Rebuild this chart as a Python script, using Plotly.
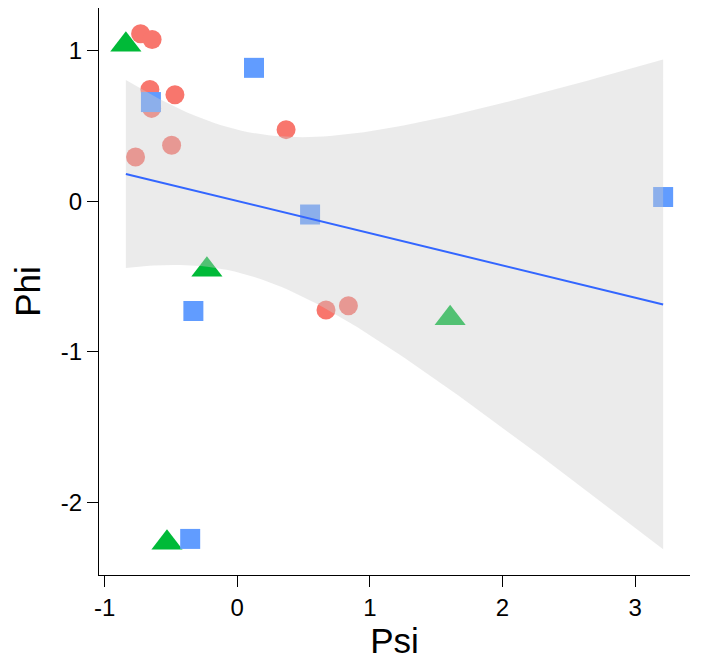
import numpy as np
import plotly.graph_objects as go

# ---- data ----
red_x = [-0.729, -0.642, -0.659, -0.470, -0.646, -0.495, -0.767, 0.368, 0.669, 0.838]
red_y = [1.111, 1.073, 0.742, 0.707, 0.616, 0.371, 0.293, 0.475, -0.722, -0.693]
green_x = [-0.840, -0.229, -0.530, 1.605]
green_y = [1.039, -0.455, -2.266, -0.776]
blue_x = [0.126, -0.651, 0.549, -0.331, -0.355, 3.211]
blue_y = [0.885, 0.658, -0.088, -0.728, -2.240, 0.028]

x_tickvals = [-1, 0, 1, 2, 3]
x_ticktext = ["-1", "0", "1", "2", "3"]
y_tickvals = [-2, -1, 0, 1]
y_ticktext = ["-2", "-1", "0", "1"]

# ---- linear fit with 95% confidence band (like stat_smooth(method="lm")) ----
ax = np.array(red_x + green_x + blue_x)
ay = np.array(red_y + green_y + blue_y)
n = len(ax)
slope, intercept = np.polyfit(ax, ay, 1)
xs = np.linspace(ax.min(), ax.max(), 80)
yhat = intercept + slope * xs
resid = ay - (intercept + slope * ax)
s = np.sqrt(np.sum(resid ** 2) / (n - 2))
sxx = np.sum((ax - ax.mean()) ** 2)
se = s * np.sqrt(1.0 / n + (xs - ax.mean()) ** 2 / sxx)
t975 = 2.100922  # t quantile, df = n - 2 = 18
upper = yhat + t975 * se
lower = yhat - t975 * se

# axis ranges with ggplot-style 5% expansion
xmin, xmax = ax.min(), ax.max()
ymin = min(ay.min(), lower.min())
ymax = max(ay.max(), upper.max())
xr = [xmin - 0.05 * (xmax - xmin), xmax + 0.05 * (xmax - xmin)]
yr = [ymin - 0.05 * (ymax - ymin), ymax + 0.05 * (ymax - ymin)]

fig = go.Figure()
fig.add_trace(go.Scatter(x=red_x, y=red_y, mode="markers",
                         marker=dict(symbol="circle", size=19, color="#F8766D"),
                         showlegend=False))
fig.add_trace(go.Scatter(x=green_x, y=green_y, mode="markers",
                         marker=dict(symbol="triangle-up", size=27, color="#00BA38"),
                         showlegend=False))
fig.add_trace(go.Scatter(x=blue_x, y=blue_y, mode="markers",
                         marker=dict(symbol="square", size=20, color="#619CFF"),
                         showlegend=False))
fig.add_trace(go.Scatter(x=np.concatenate([xs, xs[::-1]]),
                         y=np.concatenate([upper, lower[::-1]]),
                         mode="lines", fill="toself",
                         fillcolor="rgba(204,204,204,0.4)",
                         line=dict(width=0, color="rgba(0,0,0,0)"),
                         hoverinfo="skip", showlegend=False))
fig.add_trace(go.Scatter(x=xs, y=yhat, mode="lines",
                         line=dict(color="#3366FF", width=2),
                         showlegend=False))

font_family = "Liberation Sans, Arial, sans-serif"
axis_common = dict(showline=True, linecolor="black", linewidth=1.4,
                   ticks="outside", ticklen=11, tickwidth=1.4, tickcolor="black",
                   showgrid=False, zeroline=False, mirror=False,
                   tickfont=dict(family=font_family, size=24, color="black"))

fig.update_layout(
    width=703, height=664,
    margin=dict(l=99, r=13, t=8, b=89),
    paper_bgcolor="white", plot_bgcolor="white",
    font=dict(family=font_family, color="black"),
    xaxis=dict(range=xr, tickvals=x_tickvals, ticktext=x_ticktext,
               title=dict(text="Psi", font=dict(family=font_family, size=35, color="black"),
                          standoff=1),
               automargin=False, **axis_common),
    yaxis=dict(range=yr, tickvals=y_tickvals, ticktext=y_ticktext,
               title=dict(text="Phi", font=dict(family=font_family, size=35, color="black"),
                          standoff=9),
               automargin=False, **axis_common),
)

fig.write_html("out.html")
